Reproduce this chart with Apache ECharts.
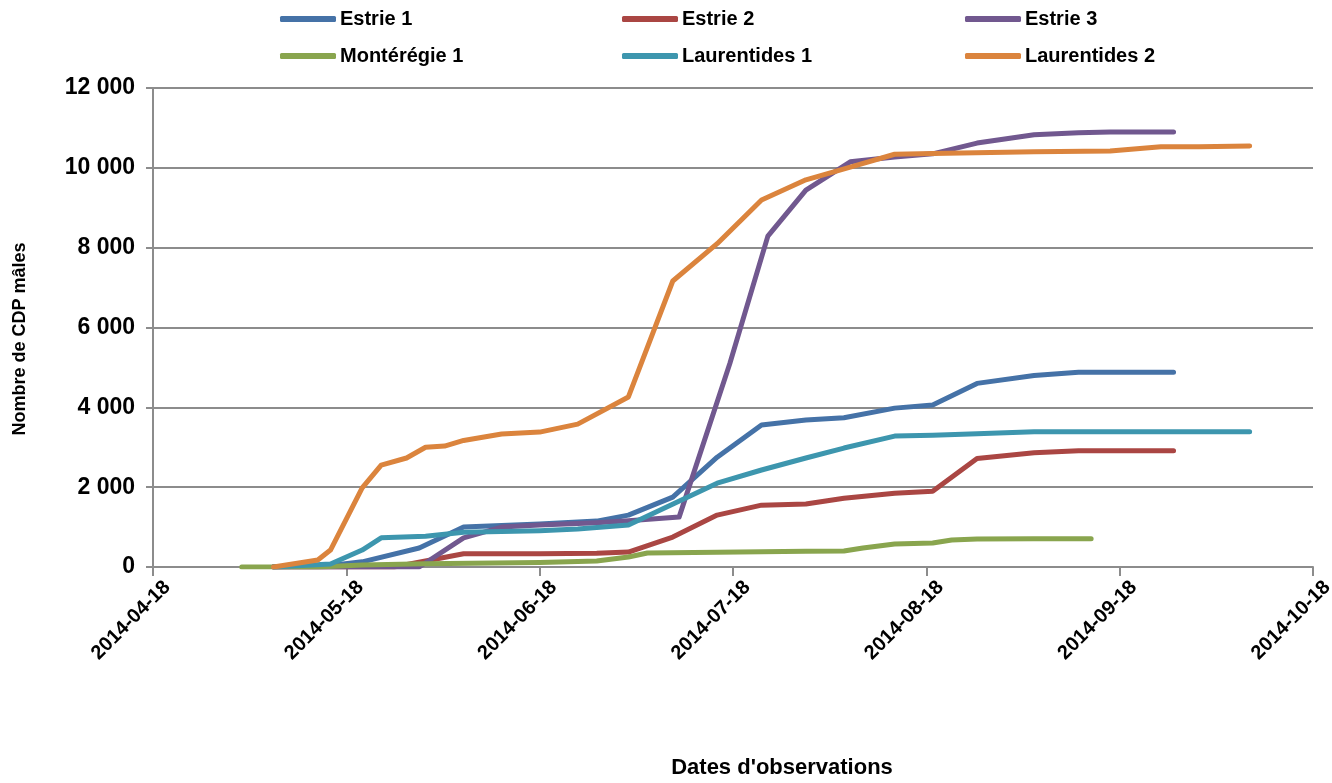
<!DOCTYPE html>
<html>
<head>
<meta charset="utf-8">
<script src="https://cdn.jsdelivr.net/npm/echarts@6/dist/echarts.min.js"></script>
<style>
html,body{margin:0;padding:0;background:#fff;}
#chart{width:1332px;height:783px;}
</style>
</head>
<body>
<div id="chart"></div>
<script>
// ---------- DATA ----------
const tickLabels = ['2014-04-18','2014-05-18','2014-06-18','2014-07-18','2014-08-18','2014-09-18','2014-10-18'];
const seriesNames = ['Estrie 1','Estrie 2','Estrie 3','Montérégie 1','Laurentides 1','Laurentides 2'];

const estrie1Dates = ['2014-05-07','2014-05-16','2014-05-21','2014-05-30','2014-06-06','2014-06-18','2014-06-27','2014-07-02','2014-07-09','2014-07-16','2014-07-23','2014-07-30','2014-08-05','2014-08-13','2014-08-19','2014-08-26','2014-09-04','2014-09-11','2014-09-26'];
const estrie1Values = [0, 40, 130, 475, 1000, 1080, 1150, 1300, 1750, 2750, 3560, 3680, 3740, 3980, 4060, 4600, 4800, 4880, 4880];

const estrie2Dates = ['2014-05-07','2014-05-26','2014-06-06','2014-06-18','2014-06-27','2014-07-02','2014-07-09','2014-07-16','2014-07-23','2014-07-30','2014-08-05','2014-08-13','2014-08-19','2014-08-26','2014-09-04','2014-09-11','2014-09-26'];
const estrie2Values = [0, 0, 330, 335, 345, 375, 750, 1300, 1550, 1580, 1720, 1850, 1900, 2720, 2860, 2910, 2910];

const estrie3Dates = ['2014-05-07','2014-05-30','2014-06-06','2014-06-12','2014-06-18','2014-06-27','2014-07-02','2014-07-10','2014-07-18','2014-07-24','2014-07-30','2014-08-06','2014-08-13','2014-08-19','2014-08-26','2014-09-04','2014-09-11','2014-09-16','2014-09-26'];
const estrie3Values = [0, 0, 730, 1000, 1050, 1110, 1160, 1250, 5100, 8290, 9440, 10150, 10270, 10350, 10620, 10830, 10880, 10900, 10900];

const monteregie1Dates = ['2014-05-02','2014-05-14','2014-05-21','2014-05-31','2014-06-18','2014-06-27','2014-07-02','2014-07-05','2014-07-16','2014-07-30','2014-08-05','2014-08-08','2014-08-13','2014-08-19','2014-08-22','2014-08-26','2014-09-04','2014-09-13'];
const monteregie1Values = [0, 0, 50, 80, 110, 150, 250, 350, 370, 395, 400, 475, 575, 600, 675, 700, 710, 710];

const laurentides1Dates = ['2014-05-07','2014-05-16','2014-05-21','2014-05-24','2014-05-31','2014-06-06','2014-06-18','2014-06-24','2014-07-02','2014-07-16','2014-07-23','2014-07-30','2014-08-05','2014-08-13','2014-08-19','2014-08-26','2014-09-04','2014-09-11','2014-10-08'];
const laurentides1Values = [0, 75, 425, 730, 770, 870, 910, 950, 1050, 2100, 2430, 2730, 2980, 3280, 3300, 3340, 3390, 3390, 3390];

const laurentides2Dates = ['2014-05-07','2014-05-14','2014-05-16','2014-05-21','2014-05-24','2014-05-28','2014-05-31','2014-06-03','2014-06-06','2014-06-12','2014-06-18','2014-06-24','2014-07-02','2014-07-09','2014-07-16','2014-07-23','2014-07-30','2014-08-06','2014-08-13','2014-08-19','2014-09-04','2014-09-16','2014-09-24','2014-09-30','2014-10-08'];
const laurentides2Values = [0, 175, 425, 1980, 2550, 2730, 3000, 3030, 3170, 3330, 3380, 3580, 4260, 7165, 8100, 9195, 9700, 10020, 10340, 10360, 10400, 10420, 10530, 10530, 10550];

const colors = ['#4572A7','#AA4643','#71588F','#89A54E','#3D96AE','#DB843D'];

// ---------- BUILD ----------
const startMs = Date.UTC(2014, 3, 18);
function dayOf(s) {
  const p = s.split('-').map(Number);
  return (Date.UTC(p[0], p[1] - 1, p[2]) - startMs) / 86400000;
}
function pairs(dates, vals) { return dates.map((d, i) => [dayOf(d), vals[i]]); }

const allDates = [estrie1Dates, estrie2Dates, estrie3Dates, monteregie1Dates, laurentides1Dates, laurentides2Dates];
const allValues = [estrie1Values, estrie2Values, estrie3Values, monteregie1Values, laurentides1Values, laurentides2Values];

const TICK = 30.5;
const FONT = '"Liberation Sans", Arial, sans-serif';

const series = seriesNames.map((name, i) => ({
  name: name,
  type: 'line',
  data: pairs(allDates[i], allValues[i]),
  showSymbol: false,
  symbol: 'none',
  lineStyle: { width: 5, color: colors[i], cap: 'round', join: 'round' },
  itemStyle: { color: colors[i] },
  emphasis: { disabled: true },
  animation: false
}));

const legendLeft = [280, 622, 965];
const legendTop = [9, 46];
const legends = seriesNames.map((name, i) => ({
  data: [name],
  left: legendLeft[i % 3],
  top: legendTop[Math.floor(i / 3)],
  padding: 0,
  icon: 'roundRect',
  itemWidth: 56,
  itemHeight: 6,
  itemGap: 5,
  textStyle: { fontFamily: FONT, fontWeight: 'bold', fontSize: 20, color: '#000', padding: [0, 0, 0, -1] },
  selectedMode: false
}));

function spaced(v) { return String(v).replace(/\B(?=(\d{3})+(?!\d))/g, ' '); }

const option = {
  backgroundColor: '#fff',
  animation: false,
  color: colors,
  legend: legends,
  grid: { left: 153, right: 19, top: 88, bottom: 216, containLabel: false, outerBoundsMode: 'none' },
  xAxis: {
    type: 'value',
    min: 0,
    max: TICK * (tickLabels.length - 1),
    interval: TICK,
    splitLine: { show: false },
    axisLine: { show: true, lineStyle: { color: '#8c8c8c', width: 2 } },
    axisTick: { show: true, length: 9, lineStyle: { color: '#8c8c8c', width: 2 } },
    axisLabel: {
      rotate: 45,
      margin: 3,
      verticalAlign: 'top',
      lineHeight: 40,
      hideOverlap: false,
      fontFamily: FONT, fontWeight: 'bold', fontSize: 20, color: '#000',
      formatter: v => tickLabels[Math.round(v / TICK)] || ''
    }
  },
  yAxis: {
    type: 'value',
    min: 0, max: 12000, interval: 2000,
    splitLine: { show: true, lineStyle: { color: '#8c8c8c', width: 2 } },
    axisLine: { show: true, lineStyle: { color: '#8c8c8c', width: 2 } },
    axisTick: { show: true, length: 7, lineStyle: { color: '#8c8c8c', width: 2 } },
    axisLabel: {
      margin: 18,
      fontFamily: FONT, fontWeight: 'bold', fontSize: 23, color: '#000',
      formatter: v => spaced(v)
    }
  },
  graphic: [
    {
      type: 'text', x: 20, y: 339, rotation: Math.PI / 2,
      style: { text: 'Nombre de CDP mâles', textAlign: 'center', textVerticalAlign: 'middle',
               font: 'bold 18px ' + FONT, fill: '#000' }
    },
    {
      type: 'text', x: 782, y: 768,
      style: { text: "Dates d'observations", textAlign: 'center', textVerticalAlign: 'middle',
               font: 'bold 22px ' + FONT, fill: '#000' }
    }
  ],
  series: series
};

const chart = echarts.init(document.getElementById('chart'), null, { renderer: 'canvas' });
chart.setOption(option);
</script>
</body>
</html>
